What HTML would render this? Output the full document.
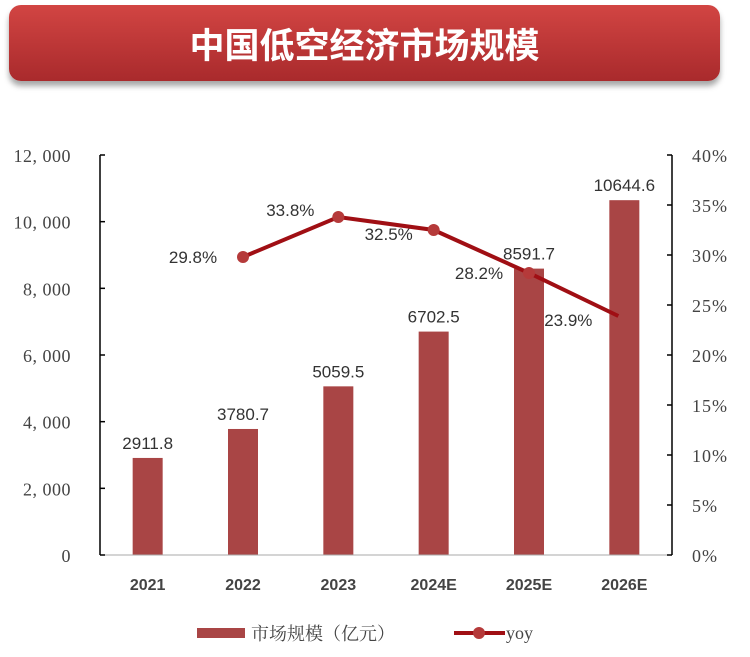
<!DOCTYPE html>
<html><head><meta charset="utf-8"><style>
body{margin:0;background:#fff;width:750px;height:657px;overflow:hidden;font-family:"Liberation Sans","Noto Sans CJK SC",sans-serif;}
#banner{position:absolute;left:9px;top:5px;width:711px;height:76px;border-radius:12px;background:linear-gradient(#d24543,#a92a2c);box-shadow:0 5px 6px rgba(0,0,0,0.35);color:#fff;font-weight:bold;font-size:35px;text-align:center;line-height:78px;font-family:"Noto Sans CJK SC",sans-serif;}
svg{position:absolute;left:0;top:0}
</style></head><body>
<div id="banner">中国低空经济市场规模</div>
<svg id="chart" width="750" height="657"></svg>
<script>
const categories=["2021","2022","2023","2024E","2025E","2026E"];
const marketSize=[2911.8,3780.7,5059.5,6702.5,8591.7,10644.6];
const yoyCats=["2022","2023","2024E","2025E","2026E"];
const yoy=[29.8,33.8,32.5,28.2,23.9];
const leftTicks=[0,2000,4000,6000,8000,10000,12000];
const leftTickLabels=["0","2, 000","4, 000","6, 000","8, 000","10, 000","12, 000"];
const rightTicks=[0,5,10,15,20,25,30,35,40];

const NS="http://www.w3.org/2000/svg";
const svg=document.getElementById('chart');
const X0=100,X1=672,Y0=555,Y1=155;
const band=(X1-X0)/categories.length;
const xc=c=>X0+band*(categories.indexOf(c)+0.5);
const yL=v=>Y0-(v/12000)*(Y0-Y1);
const yR=v=>Y0-(v/40)*(Y0-Y1);
function el(t,a,txt){const e=document.createElementNS(NS,t);for(const k in a)e.setAttribute(k,a[k]);if(txt!==undefined)e.textContent=txt;svg.appendChild(e);return e;}

marketSize.forEach((v,i)=>{
  const b=el('rect',{x:xc(categories[i])-15,y:yL(v),width:30,height:Y0-yL(v),fill:'#a94545'});
  
  
  const t=el('text',{x:xc(categories[i]),y:yL(v)-9,'text-anchor':'middle','font-size':17,fill:'#333'},v.toFixed(1));
  
  
  const xl=el('text',{x:xc(categories[i]),y:590,'text-anchor':'middle','font-size':16,fill:'#444','font-weight':'bold'},categories[i]);
  
  
});
let a=el('line',{x1:X0,y1:Y1,x2:X0,y2:Y0,stroke:'#000','stroke-width':1.5});

a=el('line',{x1:X1,y1:Y1,x2:X1,y2:Y0,stroke:'#000','stroke-width':1.5});

a=el('line',{x1:X0,y1:Y0,x2:X1,y2:Y0,stroke:'#aaa','stroke-width':1});

leftTicks.forEach((v,i)=>{
  el('line',{x1:X0,y1:yL(v),x2:X0+5,y2:yL(v),stroke:'#000','stroke-width':1.5});
  const t=el('text',{x:71,y:yL(v)+7,'text-anchor':'end','font-size':18,'letter-spacing':'0.5',fill:'#444','font-family':'Liberation Serif, serif'},leftTickLabels[i]);
  
  
});
rightTicks.forEach(v=>{
  el('line',{x1:X1-5,y1:yR(v),x2:X1,y2:yR(v),stroke:'#000','stroke-width':1.5});
  const t=el('text',{x:692,y:yR(v)+7,'font-size':18,'letter-spacing':'1',fill:'#444','font-family':'Liberation Serif, serif'},v+'%');
  
  
});
const pts=yoy.map((v,i)=>[xc(yoyCats[i])-(yoyCats[i]==='2026E'?6:0),yR(v)]);
const pl=el('polyline',{points:pts.map(p=>p.join(',')).join(' '),fill:'none',stroke:'#a00f14','stroke-width':4});

const lblOff=[[-50,6],[-48,-1],[-45,10],[-50,6],[-50,10]];
yoy.forEach((v,i)=>{
  if(yoyCats[i]!=='2026E'){const c=el('circle',{cx:pts[i][0],cy:pts[i][1],r:6,fill:'#b53a3a'});
  }
  const t=el('text',{x:pts[i][0]+lblOff[i][0],y:pts[i][1]+lblOff[i][1],'text-anchor':'middle','font-size':17,fill:'#333'},v.toFixed(1)+'%');
  
});
let l=el('rect',{x:197,y:628,width:48,height:10,fill:'#a94545'});

l=el('text',{x:251,y:640,'font-size':18,fill:'#444','font-family':'Noto Serif CJK SC, serif'},'市场规模（亿元）');

l=el('line',{x1:454,y1:633,x2:505,y2:633,stroke:'#a00f14','stroke-width':4});

el('circle',{cx:479,cy:633,r:6,fill:'#b53a3a'});
l=el('text',{x:506,y:639,'font-size':18,fill:'#444','font-family':'Liberation Serif, serif'},'yoy');

</script>
</body></html>
